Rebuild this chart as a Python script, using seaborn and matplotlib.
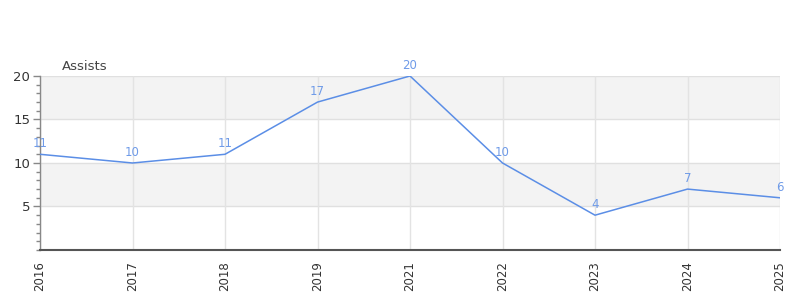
import matplotlib
matplotlib.use("Agg")
import matplotlib.pyplot as plt
import seaborn as sns
import pandas as pd
import numpy as np
from matplotlib.ticker import MultipleLocator

years = ["2016", "2017", "2018", "2019", "2021", "2022", "2023", "2024", "2025"]
assists = [11, 10, 11, 17, 20, 10, 4, 7, 6]
title = "Assists"

sns.set_theme(style="white")
plt.rcParams['font.family'] = ['DejaVu Sans']

df = pd.DataFrame({"pos": np.arange(len(years)), "year": years, "value": assists})

fig = plt.figure(figsize=(8, 3), dpi=100)
ax = fig.add_axes([0.05, 0.1667, 0.925, 0.58])

line_color = "#5b8ee6"
sns.lineplot(data=df, x="pos", y="value", ax=ax, color=line_color, linewidth=1.1, zorder=3)

ax.set_xlim(0, len(years) - 1)
ax.set_ylim(0, 20)

# alternating bands
for lo, hi in [(5, 10), (15, 20)]:
    ax.axhspan(lo, hi, color="#f3f3f3", zorder=0, lw=0)
for y in [5, 10, 15, 20]:
    ax.axhline(y, color="#e0e0e0", lw=1, zorder=1)
for x in df["pos"]:
    ax.axvline(x, color="#e3e3e3", lw=1, zorder=1)

for x, v in zip(df["pos"], df["value"]):
    ax.annotate(str(v), (x, v), xytext=(0, 3), textcoords="offset points",
                ha="center", va="bottom", fontsize=8.5, color="#6f9be8", zorder=4,
                annotation_clip=False)

ax.set_xticks(df["pos"])
ax.set_xticklabels(years, rotation=90, fontsize=8.5, color="#333333")
ax.set_yticks([5, 10, 15, 20])
ax.yaxis.set_minor_locator(MultipleLocator(1))
ax.tick_params(axis="y", which="major", length=5, width=1, color="#888888", labelsize=9.5,
               labelcolor="#333333", direction="out", left=True, pad=2)
ax.tick_params(axis="y", which="minor", length=3, width=1, color="#888888", left=True, direction="out")
ax.tick_params(axis="x", length=0, pad=8)

ax.set_xlabel("")
ax.set_ylabel("")
for s in ["top", "right"]:
    ax.spines[s].set_visible(False)
ax.spines["left"].set_color("#888888")
ax.spines["left"].set_linewidth(1)
ax.spines["bottom"].set_color("#555555")
ax.spines["bottom"].set_linewidth(1.5)
ax.axhline(0.05, color="#cc0000", lw=1, zorder=2)

fig.text(62 / 800, 1 - 66 / 300, title, fontsize=9.5, color="#444444", ha="left", va="center")

fig.savefig("out.png", dpi=100, facecolor="white")
